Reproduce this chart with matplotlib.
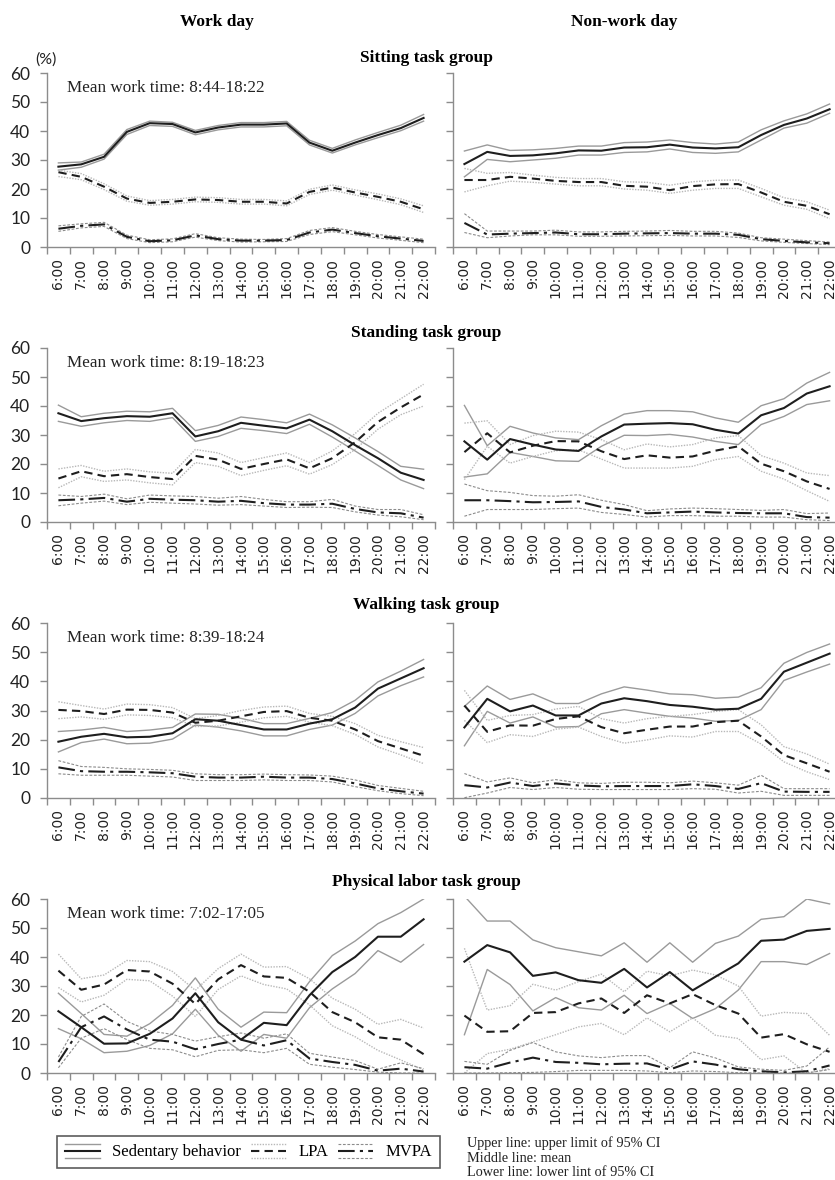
import matplotlib.pyplot as plt
from matplotlib.lines import Line2D
from matplotlib.legend_handler import HandlerBase

hours = ['6:00', '7:00', '8:00', '9:00', '10:00', '11:00', '12:00', '13:00', '14:00',
         '15:00', '16:00', '17:00', '18:00', '19:00', '20:00', '21:00', '22:00']

# each series: (upper 95% CI, mean, lower 95% CI)
# ---- Sitting task group
sit_work_sed = ([29.0, 29.3, 32.0, 40.5, 43.4, 43.0, 40.2, 41.9, 42.9, 42.9, 43.3, 36.8, 34.0, 36.9, 39.5, 42.0, 45.7],
                [27.7, 28.5, 31.1, 39.7, 42.7, 42.4, 39.5, 41.2, 42.2, 42.2, 42.6, 36.0, 33.2, 36.0, 38.6, 41.0, 44.5],
                [26.5, 27.5, 30.3, 38.8, 41.9, 41.6, 38.7, 40.4, 41.4, 41.4, 41.8, 35.2, 32.4, 35.2, 37.7, 40.1, 43.4])
sit_work_lpa = ([26.5, 25.3, 21.8, 17.6, 16.0, 16.4, 17.2, 17.0, 16.4, 16.4, 15.9, 19.9, 21.4, 19.7, 18.3, 16.6, 14.2],
                [25.8, 24.2, 20.8, 16.7, 15.2, 15.6, 16.4, 16.2, 15.6, 15.6, 15.0, 19.0, 20.5, 18.8, 17.3, 15.6, 13.0],
                [24.3, 23.2, 19.8, 15.8, 14.4, 14.8, 15.6, 15.4, 14.8, 14.8, 14.2, 18.1, 19.6, 17.9, 16.3, 14.6, 11.9])
sit_work_mvpa = ([7.3, 8.0, 8.5, 4.1, 2.5, 2.8, 4.6, 3.2, 2.7, 2.6, 2.9, 5.7, 6.7, 5.4, 4.3, 3.5, 2.7],
                 [6.3, 7.3, 7.8, 3.5, 2.0, 2.3, 4.0, 2.7, 2.2, 2.2, 2.4, 5.0, 6.0, 4.8, 3.7, 2.9, 2.1],
                 [5.4, 6.6, 7.1, 2.9, 1.5, 1.8, 3.4, 2.2, 1.7, 1.8, 1.9, 4.3, 5.3, 4.2, 3.1, 2.3, 1.5])
sit_off_sed = ([33.1, 35.2, 33.3, 33.5, 34.0, 34.8, 34.8, 36.0, 36.2, 36.9, 36.0, 35.5, 36.2, 40.4, 43.5, 45.9, 49.3],
               [28.6, 32.8, 31.4, 31.6, 32.3, 33.3, 33.2, 34.3, 34.4, 35.3, 34.3, 34.0, 34.4, 38.6, 42.1, 44.3, 47.5],
               [24.2, 30.2, 29.4, 30.0, 30.6, 31.7, 31.7, 32.6, 32.8, 33.8, 32.6, 32.3, 32.8, 36.9, 41.0, 42.7, 46.1])
sit_off_lpa = ([27.1, 25.4, 25.7, 24.8, 24.0, 23.6, 23.6, 22.5, 22.3, 21.3, 22.5, 23.0, 23.1, 20.2, 17.0, 15.6, 12.7],
               [23.1, 23.1, 24.2, 23.6, 22.8, 22.4, 22.4, 21.1, 20.8, 19.6, 21.0, 21.6, 21.7, 18.8, 15.6, 14.2, 11.3],
               [19.0, 21.1, 22.7, 22.3, 21.7, 21.1, 21.1, 20.0, 19.6, 18.5, 19.6, 20.2, 20.2, 17.3, 14.4, 13.0, 9.8])
sit_off_mvpa = ([11.5, 5.5, 5.5, 5.5, 5.8, 5.2, 5.2, 5.4, 5.5, 5.7, 5.4, 5.4, 4.8, 3.2, 2.7, 2.2, 1.7],
                [8.3, 4.3, 4.6, 4.8, 5.0, 4.4, 4.4, 4.6, 4.7, 4.8, 4.6, 4.6, 4.2, 2.7, 2.1, 1.6, 1.3],
                [5.0, 3.2, 3.8, 4.2, 4.2, 3.7, 3.7, 3.8, 3.9, 4.0, 3.8, 3.8, 3.3, 2.1, 1.6, 1.2, 0.8])

# ---- Standing task group
stand_work_sed = ([40.3, 36.3, 37.5, 38.2, 38.0, 39.2, 31.5, 33.3, 36.2, 35.3, 34.2, 37.2, 33.5, 29.0, 24.3, 19.2, 18.2],
                  [37.5, 34.8, 35.8, 36.5, 36.3, 37.5, 29.5, 31.3, 34.2, 33.2, 32.3, 35.3, 31.3, 26.5, 22.0, 17.0, 14.5],
                  [34.7, 33.0, 34.2, 35.0, 34.7, 36.0, 27.8, 29.5, 32.3, 31.5, 30.5, 33.7, 29.3, 24.5, 19.5, 14.5, 11.5])
stand_work_lpa = ([18.3, 19.5, 17.5, 18.3, 17.3, 16.8, 25.0, 23.8, 20.5, 22.2, 23.8, 20.5, 24.5, 30.5, 37.5, 42.5, 47.5],
                  [15.0, 17.5, 15.8, 16.5, 15.5, 14.8, 22.8, 21.5, 18.3, 20.0, 21.6, 18.5, 22.0, 27.5, 34.5, 39.5, 44.0],
                  [11.8, 15.6, 14.0, 14.5, 13.5, 12.8, 20.5, 19.2, 16.0, 17.8, 19.4, 16.5, 19.8, 25.0, 32.0, 37.0, 40.0])
stand_work_mvpa = ([9.3, 8.8, 9.6, 8.0, 9.3, 9.0, 8.8, 8.2, 8.8, 7.8, 7.0, 7.0, 7.8, 5.5, 4.3, 4.3, 2.5],
                   [7.5, 7.8, 8.3, 7.0, 8.0, 7.7, 7.5, 7.0, 7.3, 6.5, 6.0, 6.0, 6.3, 4.5, 3.3, 3.0, 1.5],
                   [5.6, 6.5, 7.2, 6.0, 6.8, 6.5, 6.2, 5.8, 6.0, 5.5, 5.0, 5.1, 5.0, 3.5, 2.4, 1.8, 0.8])
stand_off_sed = ([40.2, 26.3, 33.0, 30.7, 29.0, 28.4, 33.2, 37.2, 38.4, 38.4, 38.0, 35.9, 34.4, 40.1, 42.5, 47.9, 51.6],
                 [27.8, 21.5, 28.6, 26.7, 25.0, 24.5, 29.5, 33.6, 33.9, 34.1, 33.7, 31.8, 30.5, 36.8, 39.3, 44.3, 46.8],
                 [15.5, 16.6, 24.0, 22.6, 21.1, 20.9, 26.1, 29.9, 29.8, 30.2, 29.3, 27.8, 26.7, 33.6, 36.4, 40.5, 41.8])
stand_off_lpa = ([34.1, 34.9, 26.7, 29.8, 31.3, 31.0, 28.4, 24.9, 26.9, 25.9, 26.7, 29.0, 29.8, 22.9, 20.3, 16.9, 16.0],
                 [24.1, 30.6, 24.0, 26.3, 27.9, 27.8, 24.4, 21.7, 23.0, 22.2, 22.6, 24.6, 26.1, 20.1, 17.5, 14.0, 11.4],
                 [14.6, 26.1, 20.3, 22.6, 24.6, 24.9, 21.7, 18.6, 18.6, 18.6, 19.2, 21.5, 22.6, 17.5, 14.8, 10.8, 7.1])
stand_off_mvpa = ([13.1, 10.8, 10.2, 9.1, 8.9, 9.4, 7.5, 6.0, 3.9, 4.5, 4.8, 4.6, 4.3, 4.0, 4.3, 2.9, 3.1],
                  [7.5, 7.5, 7.2, 6.8, 6.9, 7.1, 5.2, 4.3, 3.0, 3.3, 3.6, 3.3, 3.1, 3.0, 3.0, 1.7, 1.5],
                  [2.0, 4.3, 4.3, 4.3, 4.6, 4.8, 3.3, 2.6, 1.7, 2.2, 2.2, 2.0, 2.0, 1.7, 1.7, 0.8, 0.5])

# ---- Walking task group
walk_work_sed = ([22.8, 23.3, 24.2, 22.8, 23.3, 24.2, 28.8, 28.7, 27.3, 25.5, 25.5, 27.3, 29.3, 33.5, 39.8, 43.5, 47.5],
                 [19.3, 21.0, 22.0, 20.8, 21.0, 22.2, 27.0, 26.5, 25.0, 23.5, 23.5, 25.5, 27.0, 31.0, 37.5, 41.0, 44.5],
                 [15.8, 19.0, 20.2, 18.6, 18.8, 20.2, 25.0, 24.3, 23.0, 21.3, 21.3, 23.5, 25.0, 29.0, 35.0, 38.5, 41.5])
walk_work_lpa = ([33.0, 31.7, 30.5, 32.2, 32.0, 31.0, 27.2, 28.3, 30.0, 31.2, 31.5, 29.0, 28.0, 25.5, 21.5, 19.3, 17.3],
                 [30.2, 29.8, 28.8, 30.3, 30.2, 29.3, 25.8, 26.5, 28.0, 29.5, 29.8, 27.5, 26.5, 23.5, 19.5, 17.0, 14.5],
                 [27.2, 27.8, 27.0, 28.5, 28.3, 27.5, 24.5, 24.7, 26.0, 27.5, 28.0, 26.0, 24.8, 21.8, 17.5, 14.8, 11.8])
walk_work_mvpa = ([12.8, 10.8, 10.5, 10.0, 9.8, 9.5, 8.3, 8.0, 8.0, 8.2, 8.0, 7.9, 7.5, 6.2, 4.3, 3.3, 2.3],
                  [10.5, 9.2, 9.0, 9.0, 8.8, 8.5, 7.3, 7.0, 7.0, 7.3, 7.0, 7.0, 6.5, 5.0, 3.3, 2.3, 1.5],
                  [8.3, 7.8, 7.8, 7.8, 7.5, 7.2, 6.0, 6.0, 6.0, 6.2, 6.0, 6.0, 5.5, 3.9, 2.5, 1.5, 0.8])
walk_off_sed = ([31.4, 38.4, 33.8, 35.7, 32.4, 32.4, 35.7, 38.1, 37.0, 35.7, 35.4, 34.2, 34.6, 37.8, 46.2, 49.9, 52.8],
                [24.2, 34.0, 29.7, 31.7, 28.3, 28.3, 32.4, 34.2, 33.2, 31.9, 31.3, 30.3, 30.6, 34.0, 43.3, 46.4, 49.5],
                [17.9, 29.7, 25.7, 27.8, 24.3, 24.5, 28.9, 30.3, 29.1, 28.0, 27.4, 26.3, 26.6, 30.3, 40.3, 43.2, 45.9])
walk_off_lpa = ([36.9, 26.6, 28.3, 28.6, 30.5, 31.4, 27.2, 25.7, 27.2, 28.0, 28.6, 29.7, 30.3, 25.1, 17.6, 15.1, 11.6],
                [31.7, 22.7, 24.9, 24.8, 27.1, 28.0, 24.3, 22.2, 23.4, 24.5, 24.5, 26.0, 26.5, 21.1, 14.7, 11.9, 9.0],
                [26.6, 19.0, 21.7, 21.1, 23.6, 24.3, 21.1, 18.8, 19.9, 21.3, 20.9, 22.8, 22.8, 18.5, 12.4, 9.0, 6.3])
walk_off_mvpa = ([8.4, 5.5, 6.9, 5.2, 6.3, 5.2, 5.0, 5.4, 5.4, 5.2, 5.8, 5.2, 4.4, 7.8, 3.2, 3.2, 3.2],
                 [4.4, 3.6, 5.3, 4.1, 5.0, 4.3, 4.0, 4.1, 4.1, 4.1, 4.7, 4.1, 3.1, 5.1, 2.2, 2.1, 2.1],
                 [0.1, 1.7, 3.6, 2.9, 3.6, 3.0, 2.9, 2.9, 2.9, 2.9, 3.2, 3.0, 1.7, 2.3, 0.9, 0.9, 0.9])

# ---- Physical labor task group
phys_work_sed = ([27.5, 20.5, 13.3, 12.7, 17.0, 23.3, 32.8, 22.0, 15.8, 21.0, 20.8, 31.5, 40.5, 45.5, 51.5, 55.3, 60.0],
                 [21.3, 15.8, 10.1, 10.2, 13.5, 18.8, 27.5, 17.5, 11.5, 17.3, 16.5, 26.8, 34.8, 40.0, 47.0, 47.0, 53.0],
                 [15.3, 11.8, 7.0, 7.5, 9.5, 13.5, 22.0, 13.0, 7.5, 13.3, 12.0, 22.5, 29.0, 34.3, 42.2, 38.2, 44.3])
phys_work_lpa = ([41.0, 32.5, 33.8, 38.8, 38.4, 35.0, 28.5, 36.0, 41.0, 36.5, 36.7, 32.5, 25.8, 22.0, 16.8, 18.5, 15.5],
                 [35.3, 28.7, 30.5, 35.5, 35.0, 30.8, 23.8, 32.3, 37.2, 33.3, 32.8, 28.0, 21.0, 17.5, 12.3, 11.5, 6.5],
                 [29.5, 24.5, 26.8, 32.3, 31.8, 26.5, 19.5, 28.8, 33.5, 30.5, 29.0, 23.5, 16.3, 12.5, 7.8, 4.5, 1.0])
phys_work_mvpa = ([5.5, 19.5, 23.8, 17.8, 14.5, 13.3, 11.0, 12.5, 13.8, 12.0, 13.5, 6.8, 5.5, 4.3, 1.3, 3.5, 1.5],
                  [3.8, 15.8, 19.5, 15.0, 11.5, 10.8, 8.2, 10.0, 11.5, 9.5, 11.3, 5.0, 3.8, 2.8, 0.8, 1.5, 0.5],
                  [1.8, 12.0, 15.3, 11.5, 8.5, 8.0, 5.6, 7.8, 8.0, 7.0, 8.5, 3.0, 2.0, 1.2, 0.3, 0.0, 0.0])
phys_off_sed = ([61.0, 52.4, 52.4, 45.9, 43.2, 41.8, 40.4, 44.9, 38.2, 44.9, 38.2, 44.7, 47.2, 53.0, 53.9, 60.0, 58.3],
                [38.4, 44.1, 41.6, 33.5, 34.7, 32.0, 31.1, 35.9, 29.5, 34.8, 28.5, 33.2, 37.8, 45.6, 46.0, 49.0, 49.7],
                [13.2, 35.7, 30.5, 21.4, 26.0, 22.5, 21.7, 26.8, 20.5, 24.0, 18.8, 22.2, 28.6, 38.4, 38.4, 37.4, 41.2])
phys_off_lpa = ([43.0, 21.7, 23.2, 30.6, 28.6, 31.5, 34.1, 28.0, 35.1, 33.5, 35.5, 33.8, 30.0, 19.6, 20.9, 20.5, 13.0],
                [19.8, 14.2, 14.4, 20.7, 21.0, 24.0, 25.7, 20.7, 26.8, 24.0, 27.2, 23.4, 20.5, 12.2, 13.4, 9.9, 7.3],
                [0.0, 6.7, 8.2, 10.7, 13.2, 15.9, 17.1, 13.2, 19.0, 14.2, 19.0, 13.0, 11.9, 4.6, 5.9, 0.0, 1.5])
phys_off_mvpa = ([4.0, 3.0, 7.8, 10.5, 7.3, 5.9, 5.3, 6.0, 6.0, 1.8, 7.3, 5.2, 2.1, 1.3, 0.9, 2.4, 9.0],
                 [2.0, 1.5, 3.6, 5.3, 3.8, 3.5, 3.0, 3.2, 3.3, 1.2, 4.0, 2.9, 1.3, 0.6, 0.2, 0.6, 2.6],
                 [0.0, 0.0, 0.1, 0.2, 0.5, 0.9, 0.9, 0.9, 0.7, 0.1, 0.7, 0.5, 0.1, 0.0, 0.0, 0.0, 1.2])

groups = ['Sitting task group', 'Standing task group', 'Walking task group', 'Physical labor task group']
work_times = ['Mean work time: 8:44-18:22', 'Mean work time: 8:19-18:23',
              'Mean work time: 8:39-18:24', 'Mean work time: 7:02-17:05']
panels = [
    [(sit_work_sed, sit_work_lpa, sit_work_mvpa), (sit_off_sed, sit_off_lpa, sit_off_mvpa)],
    [(stand_work_sed, stand_work_lpa, stand_work_mvpa), (stand_off_sed, stand_off_lpa, stand_off_mvpa)],
    [(walk_work_sed, walk_work_lpa, walk_work_mvpa), (walk_off_sed, walk_off_lpa, walk_off_mvpa)],
    [(phys_work_sed, phys_work_lpa, phys_work_mvpa), (phys_off_sed, phys_off_lpa, phys_off_mvpa)],
]

# line styles: (CI style, mean style) for sedentary, LPA, MVPA
styles = [
    (dict(color='#9a9a9a', ls='-', lw=1.0), dict(color='#1e1e1e', ls='-', lw=1.5)),
    (dict(color='#b8b8b8', ls=(0, (1, 1)), lw=1.0), dict(color='#1e1e1e', ls=(0, (4, 2.5)), lw=1.5)),
    (dict(color='#8c8c8c', ls=(0, (2.5, 1.5)), lw=0.8), dict(color='#1e1e1e', ls=(0, (8, 2.5, 1.5, 2.5)), lw=1.5)),
]

W, H = 835, 1180
fig = plt.figure(figsize=(W / 100, H / 100), dpi=100)
rows_px = [(73, 247), (348, 522), (623, 798), (899, 1073)]
title_y = [58, 333, 605, 882]
cols_px = [47, 453]
AXW = 388

serif = 'Liberation Serif'
x = list(range(len(hours)))

for r, (top, bot) in enumerate(rows_px):
    for c, x0 in enumerate(cols_px):
        ax = fig.add_axes([x0 / W, 1 - bot / H, AXW / W, (bot - top) / H])
        for series, (ci_st, mean_st) in zip(panels[r][c], styles):
            hi, mean, lo = series
            ax.plot(x, hi, **ci_st)
            ax.plot(x, lo, **ci_st)
        for series, (ci_st, mean_st) in zip(panels[r][c], styles):
            ax.plot(x, series[1], **mean_st)
        ax.set_xlim(-0.5, len(hours) - 0.5)
        ax.set_ylim(0, 60)
        ax.set_yticks(range(0, 61, 10))
        ax.set_xticks(x)
        ax.set_xticklabels(hours, rotation=90, fontsize=10, color='#222222')
        ax.set_xticks([i - 0.5 for i in range(len(hours) + 1)], minor=True)
        ax.tick_params(axis='x', which='major', length=0, pad=8)
        ax.tick_params(axis='x', which='minor', length=5, color='#8c8c8c', width=1)
        ax.tick_params(axis='y', length=5, color='#8c8c8c', width=1, pad=7)
        for s in ['top', 'right']:
            ax.spines[s].set_visible(False)
        for s in ['left', 'bottom']:
            ax.spines[s].set_color('#8c8c8c')
            ax.spines[s].set_linewidth(1.0)
        if c == 0:
            for lab in ax.get_yticklabels():
                lab.set_fontfamily('Lato')
                lab.set_fontsize(12.5)
                lab.set_color('#222222')
            ax.text(0.052, 0.914, work_times[r], transform=ax.transAxes, ha='left', va='center',
                    fontsize=12.3, family=serif, color='#222222')
        else:
            ax.set_yticklabels([])
    fig.text(426 / W, 1 - title_y[r] / H, groups[r], ha='center', va='center',
             fontsize=12.5, fontweight='bold', family=serif)

fig.text(217 / W, 1 - 22 / H, 'Work day', ha='center', va='center', fontsize=12.5, fontweight='bold', family=serif)
fig.text(624 / W, 1 - 22 / H, 'Non-work day', ha='center', va='center', fontsize=12.5, fontweight='bold', family=serif)
fig.text(46 / W, 1 - 60 / H, '(%)', ha='center', va='center', fontsize=11.5, family='Lato', color='#222222')


# legend key made of three stacked lines (upper CI, mean, lower CI)
class TripleKey:
    def __init__(self, ci, mean):
        self.ci = ci
        self.mean = mean


class HandlerTriple(HandlerBase):
    def create_artists(self, legend, orig_handle, xdescent, ydescent, width, height, fontsize, trans):
        arts = []
        for off, st in [(0.5, orig_handle.ci), (0.0, orig_handle.mean), (-0.5, orig_handle.ci)]:
            y = -ydescent + height * (0.5 + off)
            ln = Line2D([-xdescent, -xdescent + width], [y, y], **st)
            ln.set_transform(trans)
            arts.append(ln)
        return arts


keys = [TripleKey(ci, m) for ci, m in styles]
leg = fig.legend(keys, ['Sedentary behavior', 'LPA', 'MVPA'], handler_map={TripleKey: HandlerTriple()},
                 ncol=3, loc='lower left', bbox_to_anchor=(57 / W, 1 - 1168 / H), borderaxespad=0,
                 frameon=True, fancybox=False, handlelength=2.1, handleheight=0.9,
                 handletextpad=0.75, columnspacing=0.6, borderpad=0.45,
                 prop={'family': serif, 'size': 12})
leg.get_frame().set_edgecolor('#333333')
leg.get_frame().set_linewidth(1.2)

notes = ['Upper line: upper limit of 95% CI', 'Middle line: mean', 'Lower line: lower lint of 95% CI']
for i, t in enumerate(notes):
    fig.text(467 / W, 1 - (1143 + i * 15) / H, t, ha='left', va='center', fontsize=10.3, family=serif,
             color='#222222')

fig.savefig('out.png', dpi=100)
